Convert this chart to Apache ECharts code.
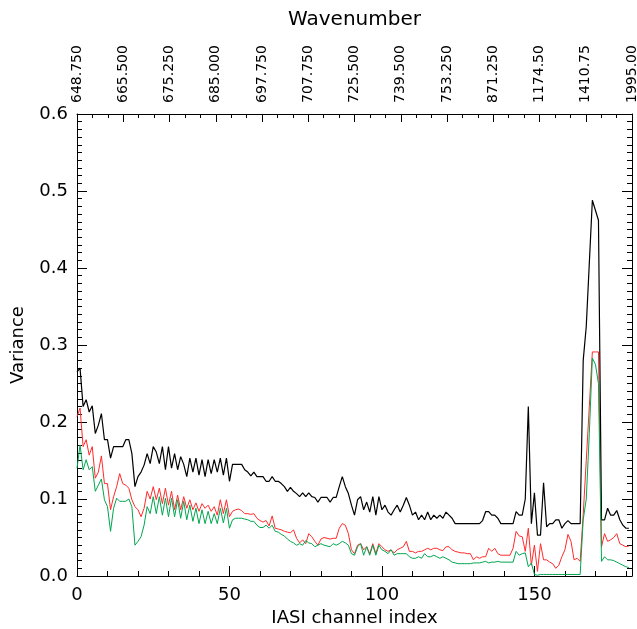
<!DOCTYPE html>
<html>
<head>
<meta charset="utf-8">
<script src="https://cdn.jsdelivr.net/npm/echarts@6/dist/echarts.min.js"></script>
<style>
html,body{margin:0;padding:0;background:#fff;}
#chart{width:637px;height:629px;}
</style>
</head>
<body>
<div id="chart"></div>
<script>
// Top axis tick labels (wavenumbers)
var wavenumberLabels = ['648.750','665.500','675.250','685.000','697.750','707.750','725.500','739.500','753.250','871.250','1174.50','1410.75','1995.00'];

// Variance series, one value per IASI channel index (0..181)
var blackValues = [
0.265,0.27,0.22,0.229,0.213,0.221,0.185,0.196,0.211,0.177,
0.177,0.153,0.168,0.168,0.168,0.168,0.177,0.177,0.159,0.116,
0.129,0.135,0.144,0.159,0.146,0.168,0.161,0.146,0.168,0.138,
0.168,0.14,0.159,0.138,0.155,0.145,0.129,0.153,0.135,0.153,
0.131,0.151,0.129,0.151,0.133,0.151,0.135,0.153,0.131,0.153,
0.123,0.145,0.145,0.145,0.145,0.138,0.135,0.13,0.135,0.129,
0.129,0.129,0.123,0.123,0.129,0.123,0.123,0.12,0.116,0.11,
0.115,0.11,0.107,0.103,0.108,0.103,0.108,0.103,0.102,0.096,
0.102,0.102,0.102,0.096,0.102,0.102,0.116,0.129,0.116,0.107,
0.092,0.079,0.099,0.103,0.086,0.096,0.083,0.103,0.079,0.103,
0.086,0.092,0.083,0.079,0.086,0.092,0.083,0.092,0.102,0.092,
0.079,0.083,0.073,0.079,0.073,0.083,0.073,0.079,0.075,0.079,
0.075,0.083,0.079,0.075,0.068,0.068,0.068,0.068,0.068,0.068,
0.068,0.068,0.068,0.072,0.0835,0.0835,0.079,0.079,0.075,0.068,
0.068,0.068,0.068,0.068,0.0835,0.079,0.079,0.1,0.22,0.068,
0.108,0.053,0.053,0.121,0.064,0.068,0.068,0.073,0.073,0.062,
0.068,0.072,0.068,0.068,0.068,0.068,0.28,0.324,0.406,0.488,
0.475,0.462,0.073,0.073,0.088,0.079,0.079,0.085,0.073,0.066,
0.062,0.062
];
var redValues = [
0.207,0.218,0.168,0.177,0.157,0.168,0.127,0.135,0.156,0.12,
0.12,0.086,0.103,0.116,0.133,0.12,0.118,0.114,0.099,0.09,
0.086,0.077,0.088,0.11,0.1,0.116,0.099,0.114,0.094,0.114,
0.092,0.11,0.086,0.105,0.086,0.103,0.088,0.099,0.086,0.095,
0.084,0.094,0.088,0.092,0.084,0.09,0.079,0.099,0.081,0.099,
0.077,0.084,0.086,0.087,0.085,0.081,0.081,0.08,0.081,0.075,
0.072,0.07,0.072,0.065,0.078,0.062,0.061,0.06,0.058,0.057,
0.056,0.06,0.049,0.043,0.047,0.042,0.055,0.051,0.045,0.04,
0.048,0.05,0.049,0.048,0.049,0.049,0.062,0.068,0.066,0.055,
0.034,0.029,0.04,0.042,0.034,0.038,0.029,0.042,0.029,0.042,
0.038,0.034,0.032,0.034,0.03,0.034,0.036,0.038,0.045,0.032,
0.032,0.03,0.032,0.032,0.034,0.036,0.034,0.036,0.036,0.034,
0.033,0.038,0.038,0.034,0.032,0.031,0.03,0.03,0.029,0.029,
0.021,0.025,0.023,0.025,0.025,0.036,0.032,0.036,0.029,0.027,
0.027,0.027,0.027,0.036,0.058,0.052,0.051,0.032,0.062,0.014,
0.04,0.006,0.042,0.021,0.021,0.018,0.016,0.01,0.014,0.025,
0.034,0.054,0.045,0.021,0.023,0.019,0.08,0.15,0.22,0.291,
0.291,0.291,0.038,0.055,0.045,0.047,0.05,0.055,0.042,0.04,
0.038,0.039
];
var greenValues = [
0.14,0.17,0.138,0.151,0.138,0.142,0.11,0.118,0.126,0.099,
0.09,0.058,0.088,0.101,0.097,0.097,0.097,0.1,0.09,0.04,
0.045,0.051,0.066,0.09,0.081,0.103,0.081,0.103,0.079,0.101,
0.077,0.101,0.077,0.099,0.075,0.097,0.073,0.092,0.071,0.088,
0.068,0.086,0.068,0.084,0.068,0.081,0.068,0.088,0.069,0.088,
0.062,0.073,0.075,0.075,0.075,0.074,0.073,0.071,0.071,0.066,
0.063,0.063,0.066,0.062,0.066,0.058,0.057,0.054,0.052,0.048,
0.045,0.043,0.04,0.042,0.04,0.046,0.043,0.042,0.038,0.04,
0.042,0.04,0.039,0.038,0.042,0.04,0.042,0.045,0.043,0.04,
0.029,0.027,0.038,0.042,0.027,0.038,0.027,0.04,0.027,0.04,
0.034,0.032,0.029,0.034,0.027,0.029,0.029,0.029,0.029,0.025,
0.023,0.023,0.025,0.023,0.029,0.025,0.025,0.027,0.025,0.023,
0.025,0.023,0.021,0.018,0.017,0.016,0.016,0.016,0.016,0.016,
0.017,0.017,0.017,0.018,0.019,0.017,0.018,0.018,0.019,0.018,
0.018,0.018,0.018,0.018,0.032,0.027,0.029,0.03,0.012,0.017,
0.002,0.001,0.002,0.002,0.002,0.002,0.002,0.002,0.002,0.002,
0.002,0.002,0.002,0.002,0.002,0.002,0.073,0.1,0.185,0.283,
0.275,0.25,0.019,0.025,0.021,0.021,0.02,0.018,0.016,0.014,
0.012,0.011
];

function pairs(vals){ return vals.map(function(v,i){ return [i, v]; }); }

var FONT = 'DejaVu Sans';
var chart = echarts.init(document.getElementById('chart'), null, {renderer:'canvas'});
chart.setOption({
  animation:false,
  backgroundColor:'#ffffff',
  textStyle:{fontFamily:FONT},
  grid:{left:77, right:5, top:114, bottom:53, containLabel:false, outerBoundsMode:'none'},
  xAxis:[{
    type:'value', min:0, max:182, interval:50, position:'bottom',
    name:'IASI channel index', nameLocation:'middle', nameGap:33,
    nameTextStyle:{fontSize:18, color:'#000', fontFamily:FONT},
    axisLine:{show:true, onZero:false, lineStyle:{color:'#000', width:1}},
    axisTick:{show:true, inside:true, length:10, lineStyle:{color:'#000'}},
    minorTick:{show:true, splitNumber:5, length:5, lineStyle:{color:'#000'}},
    axisLabel:{fontSize:18, color:'#000', margin:10, fontFamily:FONT,
      formatter:function(v){ return v > 180 ? '' : String(v); }},
    splitLine:{show:false}
  },{
    type:'value', min:0, max:12, interval:1, position:'top',
    name:'Wavenumber', nameLocation:'middle', nameGap:84,
    nameTextStyle:{fontSize:20, color:'#000', fontFamily:FONT},
    axisLine:{show:true, onZero:false, lineStyle:{color:'#000', width:1}},
    axisTick:{show:true, inside:true, length:8, lineStyle:{color:'#000'}},
    minorTick:{show:true, splitNumber:3, length:4, lineStyle:{color:'#000'}},
    axisLabel:{fontSize:14, color:'#000', rotate:-90, margin:11, fontFamily:FONT,
      formatter:function(v){ return wavenumberLabels[Math.round(v)] || ''; }},
    splitLine:{show:false}
  }],
  yAxis:[{
    type:'value', min:0, max:0.6, interval:0.1, position:'left',
    name:'Variance', nameLocation:'middle', nameGap:50, nameRotate:90,
    nameTextStyle:{fontSize:18, color:'#000', fontFamily:FONT},
    axisLine:{show:true, onZero:false, lineStyle:{color:'#000', width:1}},
    axisTick:{show:true, inside:true, length:10, lineStyle:{color:'#000'}},
    minorTick:{show:true, splitNumber:10, length:5, lineStyle:{color:'#000'}},
    axisLabel:{fontSize:18, color:'#000', margin:9, fontFamily:FONT,
      formatter:function(v){ return v.toFixed(1); }},
    splitLine:{show:false}
  },{
    type:'value', min:0, max:0.6, interval:0.1, position:'right',
    axisLine:{show:true, onZero:false, lineStyle:{color:'#000', width:1}},
    axisTick:{show:true, inside:true, length:10, lineStyle:{color:'#000'}},
    minorTick:{show:true, splitNumber:10, length:5, lineStyle:{color:'#000'}},
    axisLabel:{show:false},
    splitLine:{show:false}
  }],
  series:[
    {type:'line', data:pairs(blackValues), xAxisIndex:0, yAxisIndex:0, showSymbol:false,
     lineStyle:{color:'#000000', width:1.2}, itemStyle:{color:'#000000'}, z:3},
    {type:'line', data:pairs(redValues), xAxisIndex:0, yAxisIndex:0, showSymbol:false,
     lineStyle:{color:'#ff2a2a', width:1}, itemStyle:{color:'#ff2a2a'}, z:2},
    {type:'line', data:pairs(greenValues), xAxisIndex:0, yAxisIndex:0, showSymbol:false,
     lineStyle:{color:'#00a550', width:1}, itemStyle:{color:'#00a550'}, z:4}
  ]
});
</script>
</body>
</html>
